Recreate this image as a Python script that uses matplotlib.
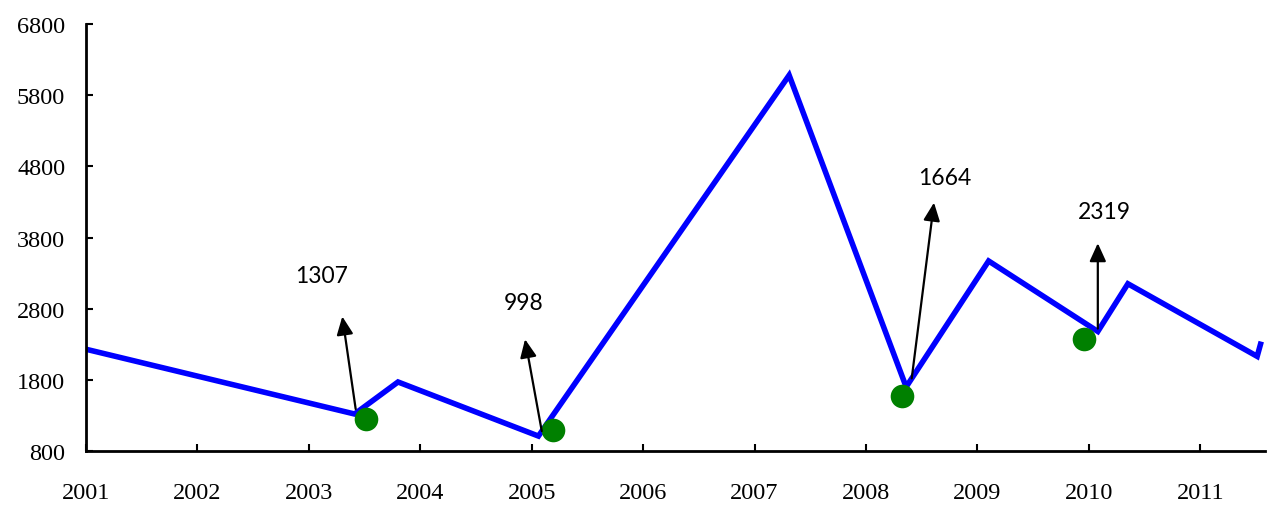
import matplotlib.pyplot as plt

# Line vertices (year position, value)
line_x = [2001.0, 2003.41, 2003.80, 2005.06, 2007.31, 2008.36, 2009.10, 2010.08, 2010.35, 2011.51, 2011.54]
line_y = [2230, 1320, 1770, 1010, 6080, 1700, 3470, 2480, 3150, 2130, 2300]

# Green markers
dot_x = [2003.51, 2005.19, 2008.32, 2009.96]
dot_y = [1250, 1095, 1570, 2380]

# Annotations: arrow tail, arrow tip, label position, label text
arrow_tail_x = [2003.42, 2005.09, 2008.41, 2010.08]
arrow_tail_y = [1390, 1080, 1820, 2520]
arrow_tip_x = [2003.30, 2004.94, 2008.61, 2010.08]
arrow_tip_y = [2690, 2370, 4290, 3720]
label_x = [2003.11, 2004.93, 2008.71, 2010.14]
label_y = [3265, 2890, 4640, 4160]
labels = ["1307", "998", "1664", "2319"]

years = list(range(2001, 2012))
yticks = [800, 1800, 2800, 3800, 4800, 5800, 6800]

fig = plt.figure(figsize=(12.78, 5.10), dpi=100)
ax = fig.add_axes([0.0673, 0.1137, 0.9225, 0.8373])

ax.plot(line_x, line_y, color="#0000ff", lw=4, solid_joinstyle="miter", zorder=2)
ax.plot(dot_x, dot_y, "o", color="#008000", ms=17, mec="none", zorder=3)

for tx, ty, hx, hy in zip(arrow_tail_x, arrow_tail_y, arrow_tip_x, arrow_tip_y):
    ax.annotate("", xy=(hx, hy), xytext=(tx, ty),
                arrowprops=dict(arrowstyle="-|>,head_length=1.1,head_width=0.5",
                                color="black", lw=1.6, shrinkA=0, shrinkB=0),
                zorder=4)

for lx, ly, t in zip(label_x, label_y, labels):
    ax.text(lx, ly, t, ha="center", va="center", fontsize=16.5,
            family=["Lato", "DejaVu Sans"])

ax.set_xlim(2001, 2011.58)
ax.set_ylim(800, 6800)
ax.set_xticks(years)
ax.set_xticklabels([str(y) for y in years])
ax.set_yticks(yticks)

for s in ["top", "right"]:
    ax.spines[s].set_visible(False)
for s in ["left", "bottom"]:
    ax.spines[s].set_linewidth(2.0)

ax.tick_params(axis="x", direction="in", length=5, width=1.5, pad=22)
ax.tick_params(axis="y", direction="in", length=5, width=1.5, pad=15)
for lab in ax.get_xticklabels() + ax.get_yticklabels():
    lab.set_family(["Liberation Serif", "DejaVu Serif"])
    lab.set_fontsize(17.5)

fig.savefig("out.png", dpi=100)
